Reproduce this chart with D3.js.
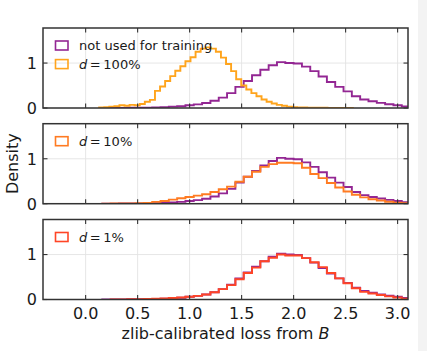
<!DOCTYPE html>
<html>
<head>
<meta charset="utf-8">
<script src="https://cdn.jsdelivr.net/npm/d3@7/dist/d3.min.js"></script>
<style>
  html, body { margin: 0; padding: 0; background: #ffffff; }
  svg { display: block; }
  text { font-family: "DejaVu Sans", sans-serif; fill: #1a1a1a; }
</style>
</head>
<body>
<svg id="chart" width="427" height="351"></svg>
<script>
// ---------------- DATA ----------------
const xTicks = [0.0, 0.5, 1.0, 1.5, 2.0, 2.5, 3.0];
const xTickLabels = ["0.0", "0.5", "1.0", "1.5", "2.0", "2.5", "3.0"];
const yTicks = [0, 1];
const yTickLabels = ["0", "1"];
const xDomain = [-0.41, 3.10];
const yDomain = [0, 1.78];

// "not used for training" histogram (coarse bins)
const notUsedStart = 0.16;
const notUsedWidth = 0.08;
const notUsed = [0.001, 0.002, 0.003, 0.004, 0.006, 0.009, 0.013, 0.02, 0.03, 0.04,
  0.06, 0.08, 0.11, 0.16, 0.23, 0.33, 0.47, 0.60, 0.73, 0.85,
  0.95, 1.02, 1.00, 0.99, 0.92, 0.82, 0.70, 0.58, 0.47, 0.37,
  0.26, 0.19, 0.15, 0.115, 0.085, 0.06, 0.035, 0.02, 0.012];

// d = 100% histogram (finer bins)
const d100Start = 0.13;
const d100Width = 0.0488;
const d100 = [0.01, 0.02, 0.03, 0.04, 0.06, 0.05, 0.07, 0.06, 0.09, 0.14,
  0.18, 0.38, 0.48, 0.60, 0.71, 0.83, 0.93, 1.04, 1.13, 1.25,
  1.32, 1.35, 1.32, 1.25, 1.12, 0.98, 0.82, 0.64, 0.50, 0.41,
  0.33, 0.26, 0.19, 0.14, 0.10, 0.07, 0.05, 0.03, 0.02, 0.015,
  0.01, 0.008, 0.006, 0.005, 0.004, 0.003, 0.003, 0.002, 0.002, 0.001];

// d = 10% histogram
const d10Start = 0.16;
const d10Width = 0.08;
const d10 = [0.002, 0.004, 0.006, 0.008, 0.01, 0.015, 0.04, 0.06, 0.09, 0.12,
  0.15, 0.18, 0.21, 0.26, 0.32, 0.38, 0.49, 0.60, 0.71, 0.82,
  0.88, 0.91, 0.91, 0.90, 0.80, 0.66, 0.57, 0.46, 0.36, 0.27,
  0.20, 0.14, 0.10, 0.07, 0.045, 0.025, 0.012, 0.006];

// d = 1% histogram
const d1Start = 0.24;
const d1Width = 0.08;
const d1 = [0.002, 0.003, 0.005, 0.008, 0.012, 0.018, 0.025, 0.033, 0.045, 0.06,
  0.08, 0.11, 0.16, 0.23, 0.32, 0.45, 0.59, 0.71, 0.85, 0.93,
  1.00, 0.98, 0.98, 0.92, 0.83, 0.72, 0.59, 0.47, 0.36, 0.25,
  0.17, 0.135, 0.10, 0.07, 0.045, 0.02, 0.01];

const legendLabels = {
  notUsed: "not used for training",
  d100: "100%",
  d10: "10%",
  d1: "1%"
};

// ---------------- STYLE / LAYOUT ----------------
const colors = {
  notUsed: "#932693",
  d100: "#ffa41c",
  d10: "#ff7b22",
  d1: "#ff4526"
};

const svg = d3.select("#chart");
const W = 427, H = 351;
const plotLeft = 43, plotRight = 408;
const panelTops = [28, 123.7, 219.5];
const panelH = 80;
const frameColor = "#333333";

// page strip on the right
svg.append("rect").attr("x", 0).attr("y", 0).attr("width", W).attr("height", H).attr("fill", "#ffffff");
svg.append("rect").attr("x", 418).attr("y", 0).attr("width", W - 418).attr("height", H).attr("fill", "#f3f3f3");

const x = d3.scaleLinear().domain(xDomain).range([plotLeft, plotRight]);

const panels = [
  { series: [
      { key: "notUsed", start: notUsedStart, width: notUsedWidth, values: notUsed },
      { key: "d100", start: d100Start, width: d100Width, values: d100 } ],
    legend: ["notUsed", "d100"] },
  { series: [
      { key: "notUsed", start: notUsedStart, width: notUsedWidth, values: notUsed },
      { key: "d10", start: d10Start, width: d10Width, values: d10 } ],
    legend: ["d10"] },
  { series: [
      { key: "notUsed", start: notUsedStart, width: notUsedWidth, values: notUsed },
      { key: "d1", start: d1Start, width: d1Width, values: d1 } ],
    legend: ["d1"] }
];

function stepPoints(s) {
  const pts = [[s.start, 0]];
  s.values.forEach((v, i) => {
    const e0 = s.start + i * s.width, e1 = s.start + (i + 1) * s.width;
    pts.push([e0, v], [e1, v]);
  });
  pts.push([s.start + s.values.length * s.width, 0]);
  return pts;
}

panels.forEach((p, pi) => {
  const top = panelTops[pi];
  const bottom = top + panelH;
  const y = d3.scaleLinear().domain(yDomain).range([bottom, top]);
  const g = svg.append("g");

  const clipId = "clip" + pi;
  svg.append("clipPath").attr("id", clipId)
    .append("rect").attr("x", plotLeft).attr("y", top - 1)
    .attr("width", plotRight - plotLeft).attr("height", panelH + 1);

  // grid
  g.selectAll(".gx").data(xTicks).enter().append("line")
    .attr("x1", d => x(d)).attr("x2", d => x(d))
    .attr("y1", top).attr("y2", bottom)
    .attr("stroke", "#e3e3e3").attr("stroke-width", 0.9);
  g.selectAll(".gy").data(yTicks).enter().append("line")
    .attr("x1", plotLeft).attr("x2", plotRight)
    .attr("y1", d => y(d)).attr("y2", d => y(d))
    .attr("stroke", "#e3e3e3").attr("stroke-width", 0.9);

  // histograms
  const line = d3.line().x(d => x(d[0])).y(d => y(d[1]));
  const hg = g.append("g").attr("clip-path", `url(#${clipId})`);
  p.series.forEach(s => {
    hg.append("path")
      .attr("d", line(stepPoints(s)))
      .attr("fill", "none")
      .attr("stroke", colors[s.key])
      .attr("stroke-width", 1.9)
      .attr("stroke-linejoin", "miter");
  });

  // ticks (inward) on all four sides
  const tl = 4.5;
  xTicks.forEach(t => {
    g.append("line").attr("x1", x(t)).attr("x2", x(t)).attr("y1", bottom).attr("y2", bottom - tl)
      .attr("stroke", frameColor).attr("stroke-width", 1.1);
    g.append("line").attr("x1", x(t)).attr("x2", x(t)).attr("y1", top).attr("y2", top + tl)
      .attr("stroke", frameColor).attr("stroke-width", 1.1);
  });
  yTicks.forEach(t => {
    g.append("line").attr("x1", plotLeft).attr("x2", plotLeft + tl).attr("y1", y(t)).attr("y2", y(t))
      .attr("stroke", frameColor).attr("stroke-width", 1.1);
    g.append("line").attr("x1", plotRight).attr("x2", plotRight - tl).attr("y1", y(t)).attr("y2", y(t))
      .attr("stroke", frameColor).attr("stroke-width", 1.1);
  });

  // frame
  g.append("rect").attr("x", plotLeft).attr("y", top)
    .attr("width", plotRight - plotLeft).attr("height", panelH)
    .attr("fill", "none").attr("stroke", frameColor).attr("stroke-width", 1.5);

  // y tick labels
  yTicks.forEach((t, i) => {
    g.append("text").attr("x", plotLeft - 6).attr("y", y(t) + 5.8)
      .attr("text-anchor", "end").attr("font-size", 16).text(yTickLabels[i]);
  });

  // x tick labels only on the bottom panel
  if (pi === panels.length - 1) {
    xTicks.forEach((t, i) => {
      g.append("text").attr("x", x(t)).attr("y", bottom + 19)
        .attr("text-anchor", "middle").attr("font-size", 16).text(xTickLabels[i]);
    });
  }

  // legend
  p.legend.forEach((k, li) => {
    const ly = top + 13 + li * 18.6;
    g.append("rect").attr("x", 55.5).attr("y", ly).attr("width", 12.5).attr("height", 9)
      .attr("fill", "none").attr("stroke", colors[k]).attr("stroke-width", 1.6);
    const t = g.append("text").attr("x", 79).attr("y", ly + 9.3).attr("font-size", 13);
    if (k === "notUsed") {
      t.text(legendLabels[k]);
    } else {
      t.append("tspan").attr("font-style", "italic").text("d");
      t.append("tspan").text("\u2009=\u2009" + legendLabels[k]);
    }
  });
});

// axis labels
svg.append("text").attr("x", (plotLeft + plotRight) / 2).attr("y", 339)
  .attr("text-anchor", "middle").attr("font-size", 16)
  .call(t => {
    t.append("tspan").text("zlib-calibrated loss from ");
    t.append("tspan").attr("font-style", "italic").text("B");
  });

svg.append("text")
  .attr("transform", `translate(18,${panelTops[1] + panelH / 2}) rotate(-90)`)
  .attr("text-anchor", "middle").attr("font-size", 16).text("Density");
</script>
</body>
</html>
